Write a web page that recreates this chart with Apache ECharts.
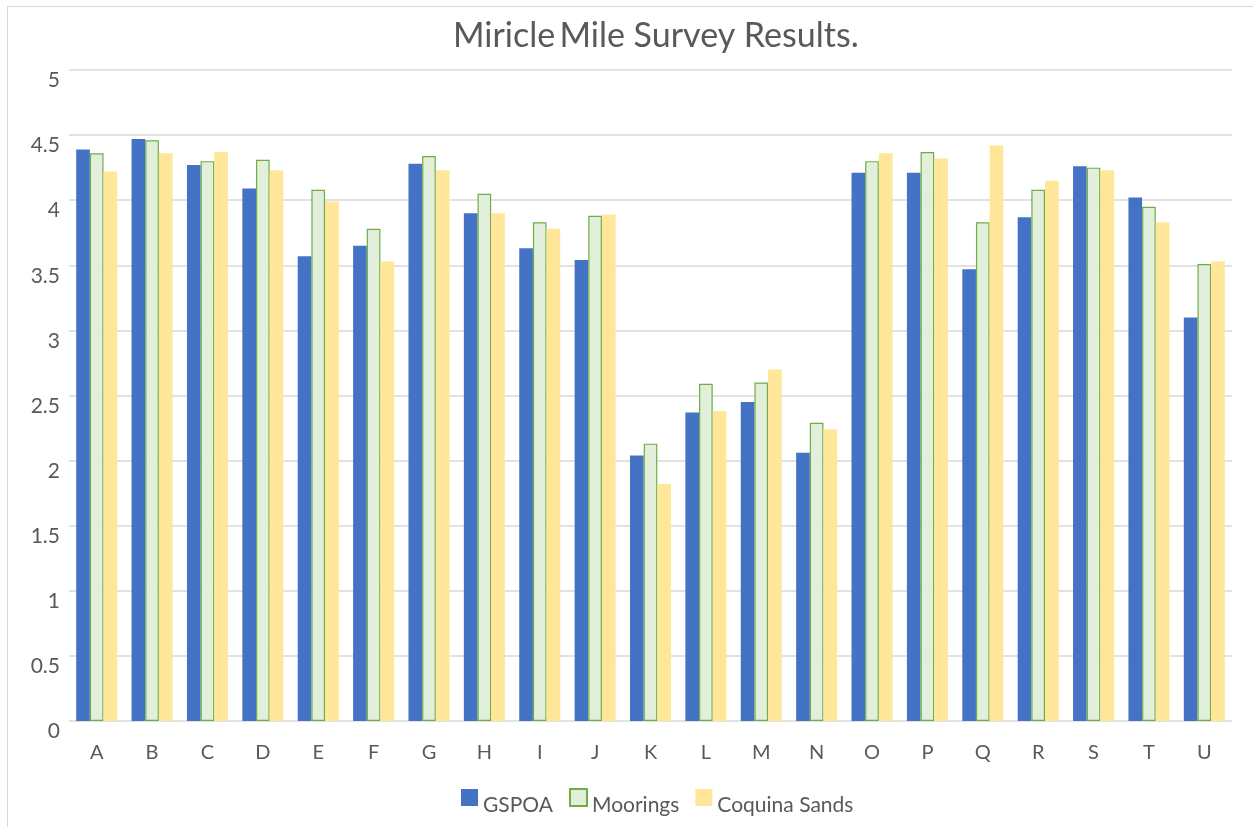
<!DOCTYPE html>
<html>
<head>
<meta charset="utf-8">
<script src="https://cdn.jsdelivr.net/npm/echarts@6/dist/echarts.min.js"></script>
<style>
html,body{margin:0;padding:0;background:#fff;}
#frame{position:absolute;left:7px;top:6px;width:1260px;height:840px;border:1px solid #d9d9d9;box-sizing:border-box;}
#chart{position:absolute;left:0;top:0;width:1253px;height:827px;}
</style>
</head>
<body>
<div id="frame"></div>
<div id="chart"></div>
<script>
const categories = ['A','B','C','D','E','F','G','H','I','J','K','L','M','N','O','P','Q','R','S','T','U'];
const gspoa    = [4.39,4.47,4.27,4.09,3.57,3.65,4.28,3.90,3.63,3.54,2.04,2.37,2.45,2.06,4.21,4.21,3.47,3.87,4.26,4.02,3.10];
const moorings = [4.36,4.46,4.30,4.31,4.08,3.78,4.34,4.05,3.83,3.88,2.13,2.59,2.60,2.29,4.30,4.37,3.83,4.08,4.25,3.95,3.51];
const coquina  = [4.22,4.36,4.37,4.23,3.99,3.53,4.23,3.90,3.78,3.89,1.82,2.38,2.70,2.24,4.36,4.32,4.42,4.15,4.23,3.83,3.53];
const seriesNames = ['GSPOA','Moorings','Coquina Sands'];
const titleText = 'Miricle\u2009Mile Survey Results.';

const font = 'Lato, "Open Sans", sans-serif';
const chart = echarts.init(document.getElementById('chart'), null, {renderer:'canvas'});
chart.setOption({
  animation:false,
  backgroundColor:'transparent',
  title:{text:titleText,left:448,top:14,
    textStyle:{fontFamily:font,fontSize:34,fontWeight:'normal',color:'#595959'}},
  legend:{bottom:6,left:456,itemWidth:17,itemHeight:17,itemGap:16,icon:'rect',
    formatter:n=>'{t|'+n+'}',
    textStyle:{fontFamily:font,fontSize:21,color:'#595959',
      rich:{t:{fontFamily:font,fontSize:21,color:'#595959',padding:[16,0,0,0]}}},
    data:seriesNames},
  grid:{left:69,right:21,top:70,bottom:106,containLabel:false},
  xAxis:{type:'category',data:categories,
    axisLine:{show:false},axisTick:{show:false},
    axisLabel:{margin:22,fontFamily:font,fontSize:20,color:'#595959'}},
  yAxis:{type:'value',min:0,max:5,interval:0.5,
    axisLine:{show:false},axisTick:{show:false},
    splitLine:{lineStyle:{color:'#d9d9d9',width:1.5}},
    axisLabel:{margin:9,fontFamily:font,fontSize:21,color:'#595959',
      verticalAlign:'top',lineHeight:21,
      formatter:v=>String(Math.round(v*10)/10)}},
  series:[
    {name:seriesNames[0],type:'bar',data:gspoa,barGap:'0%',barCategoryGap:'26%',
      itemStyle:{color:'#4472C4'}},
    {name:seriesNames[1],type:'bar',data:moorings,barGap:'0%',barCategoryGap:'26%',
      itemStyle:{color:'#E2EFDA',borderColor:'#70AD47',borderWidth:1.2}},
    {name:seriesNames[2],type:'bar',data:coquina,barGap:'0%',barCategoryGap:'26%',
      itemStyle:{color:'#FFE699'}}
  ]
});
</script>
</body>
</html>
